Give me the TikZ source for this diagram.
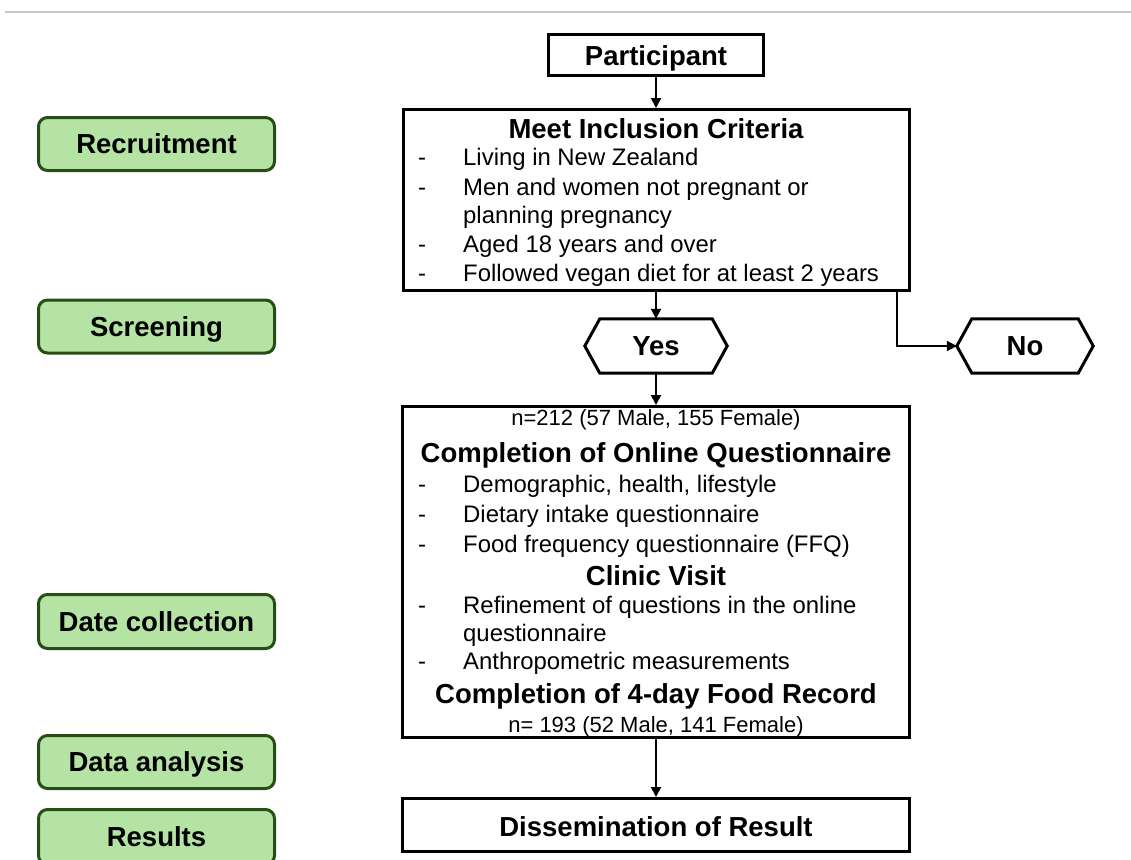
\documentclass[tikz,border=0pt]{standalone}
\usepackage{fontspec}
\setmainfont{Liberation Sans}
\usetikzlibrary{arrows.meta}
\definecolor{stagefill}{RGB}{180,227,163}
\definecolor{stageline}{RGB}{38,78,22}
\definecolor{rulegray}{RGB}{200,200,200}
\begin{document}
\begin{tikzpicture}[x=1pt,y=-1pt,
  stage/.style={draw=stageline, fill=stagefill, line width=3pt, rounded corners=9pt,
    minimum width=236pt, minimum height=53pt, inner sep=0pt, text depth=0pt,
    font=\fontsize{27.5}{30}\selectfont\bfseries},
  box/.style={draw=black, line width=3pt, inner sep=0pt},
  title/.style={font=\fontsize{27.5}{30}\selectfont\bfseries, inner sep=0pt, anchor=mid, yshift=-7pt},
  item/.style={font=\fontsize{23.9}{28}\selectfont, inner sep=0pt, anchor=mid west, yshift=-6pt},
  dashmark/.style={font=\fontsize{23.9}{28}\selectfont, inner sep=0pt, anchor=mid, yshift=-6pt},
  count/.style={font=\fontsize{22}{26}\selectfont, inner sep=0pt, anchor=mid, yshift=-6pt},
  hexin/.style={inner sep=0pt, minimum height=54pt, font=\fontsize{27.5}{30}\selectfont\bfseries},
  hexline/.style={draw=black, line width=3pt, line join=miter},
  arr/.style={line width=2pt, -{Triangle[length=10pt,width=10pt]}}
]
\useasboundingbox (0,0) rectangle (1131,859);
\clip (0,0) rectangle (1131,859);
\fill[white] (0,0) rectangle (1131,859);

% top rule
\draw[rulegray, line width=2pt] (5,12) coordinate (ruleL) -- (1131,12) coordinate (ruleR);

% stage labels
\node[stage] (recruit) at (156.5,144) {Recruitment};
\node[stage] (screen) at (156.5,326.5) {Screening};
\node[stage, minimum height=54pt] (collect) at (156.5,621.5) {Date collection};
\node[stage] (analysis) at (156.5,762) {Data analysis};
\node[stage, minimum height=55pt] (results) at (156.5,837) {Results};

% participant
\node[box, minimum width=215pt, minimum height=41pt] (part) at (656,55) {};
\node[title] (partT) at (656,56) {Participant};

% inclusion criteria
\node[box, minimum width=506pt, minimum height=181pt] (incl) at (656,200) {};
\node[title] (inclT) at (656,129) {Meet Inclusion Criteria};
\node[dashmark] (d1) at (422,157) {-};
\node[item] (i1) at (463,157) {Living in New Zealand};
\node[dashmark] (d2) at (422,187) {-};
\node[item] (i2) at (463,187) {Men and women not pregnant or};
\node[item] (i2b) at (463,215) {planning pregnancy};
\node[dashmark] (d3) at (422,244) {-};
\node[item] (i3) at (463,244) {Aged 18 years and over};
\node[dashmark] (d4) at (422,273) {-};
\node[item] (i4) at (463,273) {Followed vegan diet for at least 2 years};

% yes / no
\node[hexin, minimum width=112pt] (yes) at (656,346) {Yes};
\draw[hexline] (yes.north west) -- (yes.north east) -- ([xshift=15pt]yes.east) -- (yes.south east) -- (yes.south west) -- ([xshift=-15pt]yes.west) -- cycle;
\node[hexin, minimum width=106pt] (no) at (1025,346) {No};
\draw[hexline] (no.north west) -- (no.north east) -- ([xshift=15pt]no.east) -- (no.south east) -- (no.south west) -- ([xshift=-15pt]no.west) -- cycle;
\coordinate (noTip) at ([xshift=-15pt]no.west);
\coordinate (noDrop) at (897,0);

% data collection box
\node[box, minimum width=507pt, minimum height=331pt] (data) at (656,572) {};
\node[count] (n1) at (656,417) {n=212 (57 Male, 155 Female)};
\node[title] (dT1) at (656,453) {Completion of Online Questionnaire};
\node[dashmark] (e1) at (422,484) {-};
\node[item] (j1) at (463,484) {Demographic, health, lifestyle};
\node[dashmark] (e2) at (422,514) {-};
\node[item] (j2) at (463,514) {Dietary intake questionnaire};
\node[dashmark] (e3) at (422,544) {-};
\node[item] (j3) at (463,544) {Food frequency questionnaire (FFQ)};
\node[title] (dT2) at (656,576) {Clinic Visit};
\node[dashmark] (e4) at (422,605) {-};
\node[item] (j4) at (463,605) {Refinement of questions in the online};
\node[item] (j4b) at (463,633) {questionnaire};
\node[dashmark] (e5) at (422,661) {-};
\node[item] (j5) at (463,661) {Anthropometric measurements};
\node[title] (dT3) at (656,694) {Completion of 4-day Food Record};
\node[count] (n2) at (656,724) {n= 193 (52 Male, 141 Female)};

% dissemination
\node[box, minimum width=507pt, minimum height=53pt] (diss) at (656,825) {};
\node[title] (dissT) at (656,827) {Dissemination of Result};

% connectors
\draw[arr] (part) -- (incl);
\draw[arr] (incl) -- (yes);
\draw[arr] (incl.south -| noDrop) |- (noTip);
\draw[arr] (yes) -- (data);
\draw[arr] (data) -- (diss);
\end{tikzpicture}
\end{document}
